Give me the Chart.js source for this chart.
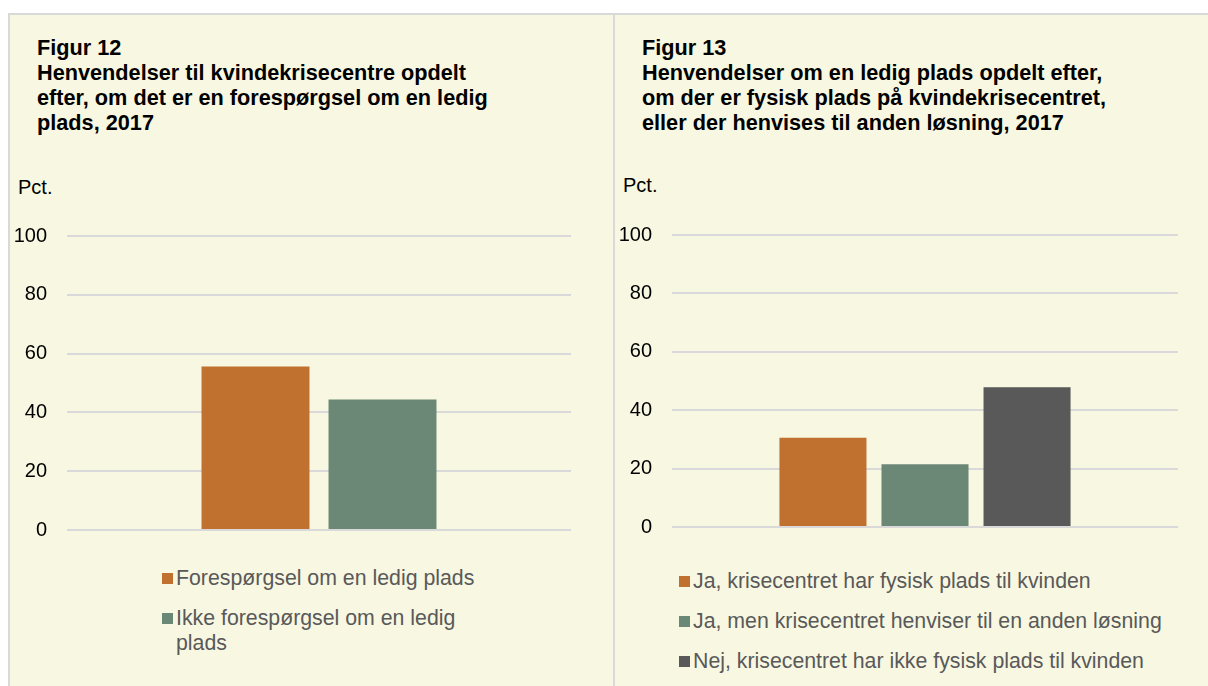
<!DOCTYPE html>
<html>
<head>
<meta charset="utf-8">
<script src="https://cdn.jsdelivr.net/npm/chart.js@4/dist/chart.umd.min.js"></script>
<style>
  body { margin: 0; background: #fff; font-family: "Liberation Sans", Arial, sans-serif; }
  .panel { position: absolute; top: 13px; height: 673px; background: #f8f7e1;
           border-top: 2px solid #d9d9d9; border-left: 2px solid #d9d9d9; box-sizing: border-box; }
  .title { position: absolute; font-weight: bold; font-size: 21.7px; line-height: 25px; color: #000; white-space: nowrap; }
  .unit { position: absolute; font-size: 20px; color: #000; }
  .box { position: absolute; }
  .legend { position: absolute; font-size: 21.3px; line-height: 25px; color: #595959; }
  .legend .item { position: relative; padding-left: 14px; margin-bottom: 15px; }
  .legend .sw { position: absolute; left: 0; top: 7px; width: 11px; height: 11px; }
</style>
</head>
<body>
<div class="panel" style="left:8px; width:606px;"></div>
<div class="panel" style="left:613px; width:595px;"></div>

<div class="title" style="left:37px; top:35px;">Figur 12<br>Henvendelser til kvindekrisecentre opdelt<br>efter, om det er en forespørgsel om en ledig<br>plads, 2017</div>
<div class="title" style="left:642px; top:35px;">Figur 13<br>Henvendelser om en ledig plads opdelt efter,<br>om der er fysisk plads på kvindekrisecentret,<br>eller der henvises til anden løsning, 2017</div>

<div class="unit" style="left:18px; top:176px;">Pct.</div>
<div class="unit" style="left:623px; top:174px;">Pct.</div>

<div class="box" style="left:10px; top:220px; width:561px; height:320px;"><canvas id="fig12"></canvas></div>
<div class="box" style="left:615px; top:220px; width:563px; height:320px;"><canvas id="fig13"></canvas></div>

<div class="legend" id="legend12" style="left:162px; top:566px; width:322px;"></div>
<div class="legend" id="legend13" style="left:679px; top:569px; width:525px;"></div>

<script>
// Figur 12
const fig12Series = ['Forespørgsel om en ledig plads', 'Ikke forespørgsel om en ledig plads'];
const fig12Values = [55.6, 44.4];

// Figur 13
const fig13Series = [
    'Ja, krisecentret har fysisk plads til kvinden',
    'Ja, men krisecentret henviser til en anden løsning',
    'Nej, krisecentret har ikke fysisk plads til kvinden'
];
const fig13Values = [30.6, 21.5, 47.9];

// y axis, pct.
const yMin = 0;
const yMax = 100;
const yStep = 20;

const colors = ['#c0702f', '#6b8776', '#595959'];

function makeChart(id, series, values, catPct, barPct, padTop, padBottom) {
    const ctx = document.getElementById(id).getContext('2d');
    return new Chart(ctx, {
        type: 'bar',
        data: {
            labels: [''],
            datasets: series.map((name, i) => ({
                label: name,
                data: [values[i]],
                backgroundColor: colors[i],
                categoryPercentage: catPct,
                barPercentage: barPct
            }))
        },
        options: {
            responsive: true,
            maintainAspectRatio: false,
            animation: false,
            layout: { padding: { top: padTop, bottom: padBottom, left: 0, right: 0 } },
            plugins: {
                legend: { display: false },
                tooltip: { enabled: false }
            },
            scales: {
                x: { display: false },
                y: {
                    min: yMin,
                    max: yMax,
                    ticks: {
                        stepSize: yStep,
                        padding: 20,
                        color: '#000',
                        font: { family: '"Liberation Sans", Arial, sans-serif', size: 20 }
                    },
                    grid: { color: '#d9d9d9', lineWidth: 2, drawTicks: false },
                    border: { display: false },
                    // fixed axis width, and no extra label padding above/below the plot
                    afterFit: scale => {
                        scale.width = 57;
                        scale.paddingTop = 0;
                        scale.paddingBottom = 0;
                    }
                }
            }
        }
    });
}

function makeLegend(id, series) {
    const el = document.getElementById(id);
    series.forEach((name, i) => {
        const item = document.createElement('div');
        item.className = 'item';
        const sw = document.createElement('span');
        sw.className = 'sw';
        sw.style.background = colors[i];
        item.appendChild(sw);
        item.appendChild(document.createTextNode(name));
        el.appendChild(item);
    });
}

makeChart('fig12', fig12Series, fig12Values, 0.504, 0.85, 16, 10);
makeChart('fig13', fig13Series, fig13Values, 0.605, 0.853, 15, 13);
makeLegend('legend12', fig12Series);
makeLegend('legend13', fig13Series);
</script>
</body>
</html>
